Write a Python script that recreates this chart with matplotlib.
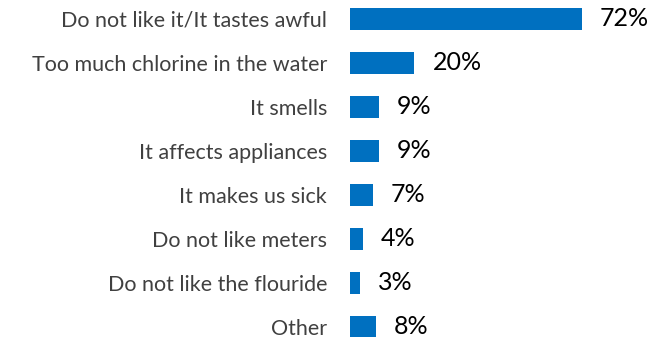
import matplotlib.pyplot as plt

# survey reasons (top to bottom) and share of responses in %
reasons = [
    "Do not like it/It tastes awful",
    "Too much chlorine in the water",
    "It smells",
    "It affects appliances",
    "It makes us sick",
    "Do not like meters",
    "Do not like the flouride",
    "Other",
]
shares = [72, 20, 9, 9, 7, 4, 3, 8]

plt.rcParams['font.family'] = ['Lato', 'DejaVu Sans']

fig = plt.figure(figsize=(6.64, 3.37), dpi=100)
ax = fig.add_axes([350 / 664, 0, 314 / 664, 1])

pos = list(range(len(reasons)))
ax.barh(pos, shares, height=0.5, color='#0070C0')

for y, v in zip(pos, shares):
    ax.annotate(f"{v}%", (v, y), xytext=(13, 0), textcoords='offset points',
                va='center', ha='left', fontsize=18, color='black')

ax.set_xlim(0, 314 / 3.22)
ax.set_ylim((337 - 19) / 44, -19 / 44)
ax.set_yticks(pos)
ax.set_yticklabels(reasons, fontsize=15.5, color='#404040')
ax.tick_params(axis='y', length=0, pad=16.5)
ax.set_xticks([])
for s in ax.spines.values():
    s.set_visible(False)

plt.savefig("out.png", dpi=100)
